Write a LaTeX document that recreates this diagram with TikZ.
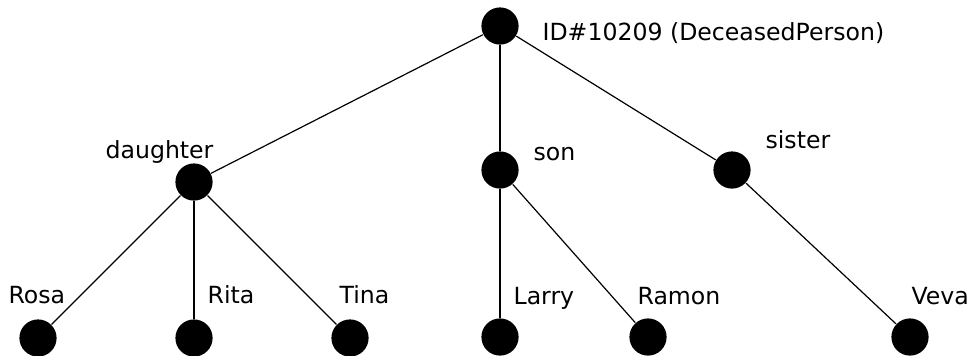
\documentclass[tikz,border=0pt]{standalone}
\usepackage{fontspec}
\setmainfont{DejaVu Sans}
\begin{document}
\begin{tikzpicture}[x=0.5pt, y=-0.5pt, line width=0.6pt,
    dot/.style={circle, fill=black, inner sep=0pt, minimum size=18.6pt},
    tag/.style={anchor=base west, inner sep=0pt, font=\fontsize{11.8}{13}\selectfont}]

    \useasboundingbox (0,0) rectangle (979,355);

    % persons
    \node[dot] (root) at (500,26) {};
    \node[dot] (daughter) at (194,182) {};
    \node[dot] (son) at (500,170) {};
    \node[dot] (sister) at (732,170) {};
    \node[dot] (rosa) at (38,338) {};
    \node[dot] (rita) at (194,338) {};
    \node[dot] (tina) at (350,338) {};
    \node[dot] (larry) at (500,337) {};
    \node[dot] (ramon) at (648,337) {};
    \node[dot] (veva) at (910,337) {};

    % names
    \node[tag] (rootname) at (542,40) {ID\#10209 (DeceasedPerson)};
    \node[tag] (daughtername) at (105,158) {daughter};
    \node[tag] (sonname) at (533,160) {son};
    \node[tag] (sistername) at (765,148) {sister};
    \node[tag] (rosaname) at (8,303) {Rosa};
    \node[tag] (ritaname) at (207,303) {Rita};
    \node[tag] (tinaname) at (339,303) {Tina};
    \node[tag] (larryname) at (513,304) {Larry};
    \node[tag] (ramonname) at (637,304) {Ramon};
    \node[tag] (vevaname) at (911,304) {Veva};

    \draw (root) -- (daughter);
    \draw (root) -- (son);
    \draw (root) -- (sister);
    \draw (daughter) -- (rosa);
    \draw (daughter) -- (rita);
    \draw (daughter) -- (tina);
    \draw (son) -- (larry);
    \draw (son) -- (ramon);
    \draw (sister) -- (veva);

\end{tikzpicture}
\end{document}
